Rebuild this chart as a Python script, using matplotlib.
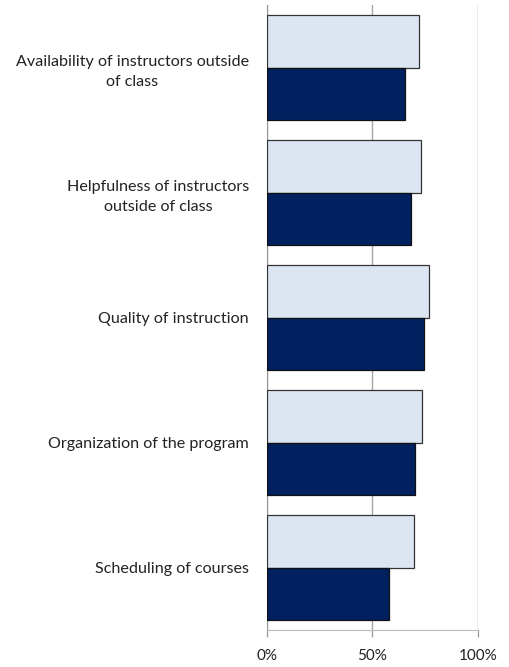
import matplotlib.pyplot as plt
import numpy as np

plt.rcParams['font.family'] = ['Lato', 'DejaVu Sans']

# data
categories = ['Availability of instructors outside\nof class',
              'Helpfulness of instructors\noutside of class',
              'Quality of instruction',
              'Organization of the program',
              'Scheduling of courses']
series_light = [72.1, 73.3, 76.9, 73.4, 70.0]
series_dark = [65.7, 68.4, 74.5, 70.2, 58.1]
xticks = [0, 50, 100]
xticklabels = ['0%', '50%', '100%']

fig = plt.figure(figsize=(5.1, 6.67), dpi=100)
ax = fig.add_axes([267/510, 1 - 630/667, (477.7 - 267)/510, 625/667])

y = np.arange(len(categories))
h = 0.42
ax.barh(y - h/2, series_light, height=h, color='#DCE6F2',
        edgecolor='#333333', linewidth=0.9, zorder=3)
ax.barh(y + h/2, series_dark, height=h, color='#002060',
        edgecolor='#111111', linewidth=0.9, zorder=3)

ax.set_ylim(len(categories) - 0.5, -0.5)
ax.set_xlim(0, 100)
ax.set_yticks(y)
ax.set_yticklabels(categories, fontsize=11.6, color='#222222',
                   multialignment='center', linespacing=1.55)
ax.tick_params(axis='y', length=0, pad=13)
ax.set_xticks(xticks)
ax.set_xticklabels(xticklabels, fontsize=11, color='#222222')
ax.tick_params(axis='x', length=5, color='#999999', width=0.9, pad=9)

ax.grid(axis='x', color='#A6A6A6', linewidth=1.0, zorder=0)
for s in ['top', 'right']:
    ax.spines[s].set_visible(False)
ax.spines['left'].set_color('#999999')
ax.spines['bottom'].set_color('#BBBBBB')

plt.savefig('out.png', dpi=100)
